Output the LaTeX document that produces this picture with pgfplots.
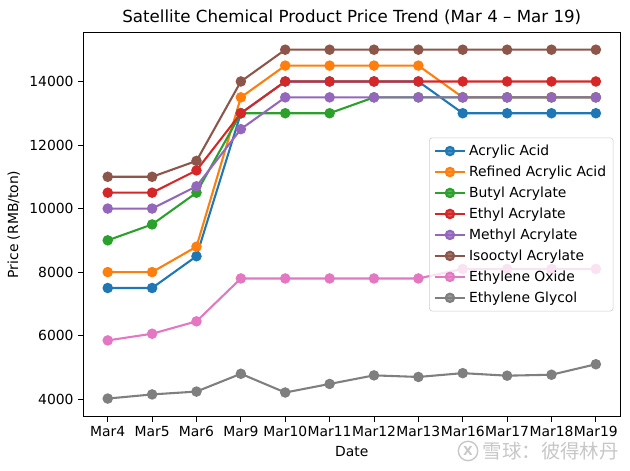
\documentclass[border=0pt]{standalone}
\usepackage{pgfplots}
\pgfplotsset{compat=1.18}
\usepackage{fontspec}
\setmainfont{DejaVu Sans}
\newfontfamily\cjk{Noto Sans CJK SC}
\definecolor{c0}{HTML}{1F77B4}
\definecolor{c1}{HTML}{FF7F0E}
\definecolor{c2}{HTML}{2CA02C}
\definecolor{c3}{HTML}{D62728}
\definecolor{c4}{HTML}{9467BD}
\definecolor{c5}{HTML}{8C564B}
\definecolor{c6}{HTML}{E377C2}
\definecolor{c7}{HTML}{7F7F7F}
\begin{document}
\begin{tikzpicture}
\path[use as bounding box] (-60pt,-38.4pt) rectangle (393.6pt,300pt);
\begin{axis}[
  at={(0,0)}, anchor=south west,
  scale only axis, width=386.6pt, height=276.8pt,
  xmin=-0.55, xmax=11.55, ymin=3450, ymax=15550,
  xtick={0,...,11},
  xticklabels={Mar4,Mar5,Mar6,Mar9,Mar10,Mar11,Mar12,Mar13,Mar16,Mar17,Mar18,Mar19},
  ytick={4000,6000,8000,10000,12000,14000},
  scaled y ticks=false,
  /pgf/number format/1000 sep={},
  /pgf/number format/assume math mode=true,
  tick align=outside, xtick pos=left, ytick pos=left,
  major tick length=3.5pt,
  tick style={black, line width=0.6pt},
  axis line style={line width=0.6pt},
  ticklabel style={font=\fontsize{10}{12}\selectfont},
  label style={font=\fontsize{10}{12}\selectfont},
  xlabel={Date}, ylabel={Price (RMB/ton)},
  title={Satellite Chemical Product Price Trend (Mar 4 – Mar 19)},
  title style={font=\fontsize{12}{14}\selectfont, yshift=-4pt},
  every axis plot/.append style={line width=1.5pt, mark=*, mark size=3pt, mark options={solid}},
  legend style={at={(rel axis cs:1,0.5)}, anchor=east, xshift=-5pt,
    draw=black!20, rounded corners=2pt, fill=white, fill opacity=0.8, text opacity=1,
    font=\fontsize{10}{12}\selectfont, row sep=2pt, inner sep=3pt},
  legend cell align=left,
  legend image code/.code={\draw[#1] (-1pt,0pt) -- (21pt,0pt); \draw[#1, mark repeat=1] plot coordinates {(10pt,0pt)};},
]
\addplot[c0, mark options={fill=c0, draw=c0}] coordinates {(0,7500)(1,7500)(2,8500)(3,13000)(4,14000)(5,14000)(6,14000)(7,14000)(8,13000)(9,13000)(10,13000)(11,13000)};
\addlegendentry{Acrylic Acid}
\addplot[c1, mark options={fill=c1, draw=c1}] coordinates {(0,8000)(1,8000)(2,8800)(3,13500)(4,14500)(5,14500)(6,14500)(7,14500)(8,13500)(9,13500)(10,13500)(11,13500)};
\addlegendentry{Refined Acrylic Acid}
\addplot[c2, mark options={fill=c2, draw=c2}] coordinates {(0,9000)(1,9500)(2,10500)(3,13000)(4,13000)(5,13000)(6,13500)(7,13500)(8,13500)(9,13500)(10,13500)(11,13500)};
\addlegendentry{Butyl Acrylate}
\addplot[c3, mark options={fill=c3, draw=c3}] coordinates {(0,10500)(1,10500)(2,11200)(3,13000)(4,14000)(5,14000)(6,14000)(7,14000)(8,14000)(9,14000)(10,14000)(11,14000)};
\addlegendentry{Ethyl Acrylate}
\addplot[c4, mark options={fill=c4, draw=c4}] coordinates {(0,10000)(1,10000)(2,10700)(3,12500)(4,13500)(5,13500)(6,13500)(7,13500)(8,13500)(9,13500)(10,13500)(11,13500)};
\addlegendentry{Methyl Acrylate}
\addplot[c5, mark options={fill=c5, draw=c5}] coordinates {(0,11000)(1,11000)(2,11500)(3,14000)(4,15000)(5,15000)(6,15000)(7,15000)(8,15000)(9,15000)(10,15000)(11,15000)};
\addlegendentry{Isooctyl Acrylate}
\addplot[c6, mark options={fill=c6, draw=c6}] coordinates {(0,5850)(1,6060)(2,6450)(3,7800)(4,7800)(5,7800)(6,7800)(7,7800)(8,8100)(9,8100)(10,8100)(11,8100)};
\addlegendentry{Ethylene Oxide}
\addplot[c7, mark options={fill=c7, draw=c7}] coordinates {(0,4020)(1,4150)(2,4240)(3,4800)(4,4210)(5,4480)(6,4750)(7,4700)(8,4820)(9,4740)(10,4770)(11,5100)};
\addlegendentry{Ethylene Glycol}
\end{axis}
\draw[black!22, line width=1pt] (277pt,-24.7pt) circle (7pt);
\node[black!22, font=\fontsize{9}{9}\selectfont\bfseries] at (277pt,-24.7pt) {X};
\node[black!22, font=\cjk\fontsize{14}{14}\selectfont, anchor=west] at (284pt,-24.7pt) {雪球：彼得林丹};
\end{tikzpicture}
\end{document}
